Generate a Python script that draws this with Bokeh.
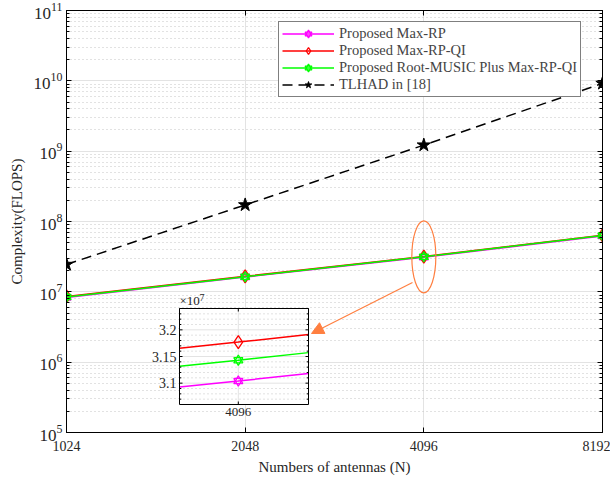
import numpy as np
from bokeh.plotting import figure
from bokeh.models import (FixedTicker, LogAxis, Range1d, LinearScale, Arrow, NormalHead, Legend)
from bokeh.core.properties import value
from bokeh.embed import file_html
from bokeh.resources import INLINE

# ---------------- data ----------------
antennas = [1024, 2048, 4096, 8192]
max_rp = [8.3e6, 1.62e7, 3.104e7, 6.22e7]
max_rp_qi = [8.6e6, 1.66e7, 3.177e7, 6.36e7]
root_music = [8.45e6, 1.64e7, 3.143e7, 6.30e7]
tlhad = [2.45e7, 1.72e8, 1.22e9, 9.2e9]
x_tick_labels = ["1024", "2048", "4096", "8192"]
y_decades = [1e5, 1e6, 1e7, 1e8, 1e9, 1e10, 1e11]
inset_yticks = [3.1, 3.15, 3.2]
inset_ytick_labels = ["3.1", "3.15", "3.2"]
inset_scale = 1e7

FONT = "Liberation Serif"
ORANGE = "#FF7F40"
GRID = "#e3e3e3"
MINOR = "#c4c4c4"

# ---------------- layout (page px) ----------------
FL, FT, FW, FH = 66, 14, 536, 422
IL, IR, IT, IB = 179, 308, 312, 408
ix0, ix1 = 4080.5, 4114.5
iy0, iy1 = 3.06, 3.24


def px2x(px):
    return 1024 * 2 ** ((px - FL) / FW * 3)


def px2y(py):
    return 10 ** (11 - (py - FT) / FH * 6)


p = figure(frame_width=FW, frame_height=FH, x_axis_type="log", y_axis_type="log",
           x_range=(1024, 8192), y_range=(1e5, 1e11),
           output_backend="svg", toolbar_location=None,
           min_border_left=66, min_border_top=10, min_border_right=8,
           min_border_bottom=40, background_fill_color="white",
           border_fill_color="white", outline_line_color="black", outline_line_width=1)

minor = [m * 10.0 ** d for d in range(5, 11) for m in range(2, 10)]
p.xaxis.ticker = FixedTicker(ticks=antennas, minor_ticks=[])
p.xaxis.major_label_overrides = {t: s for t, s in zip(antennas, x_tick_labels)}
p.yaxis.ticker = FixedTicker(ticks=y_decades, minor_ticks=minor)
p.xgrid.ticker = FixedTicker(ticks=antennas, minor_ticks=[])
p.ygrid.ticker = FixedTicker(ticks=y_decades, minor_ticks=minor)
p.xgrid.grid_line_color = GRID
p.ygrid.grid_line_color = GRID
p.ygrid.minor_grid_line_color = MINOR
p.ygrid.minor_grid_line_dash = "1 3"

for ax in [p.xaxis[0], p.yaxis[0]]:
    ax.major_tick_in = 5
    ax.major_tick_out = 0
    ax.minor_tick_in = 3
    ax.minor_tick_out = 0
    ax.axis_line_color = "black"
    ax.major_label_text_font = FONT
    ax.major_label_text_font_size = "14px"
    ax.major_label_text_color = "#262626"
    ax.axis_label_text_font = FONT
    ax.axis_label_text_font_size = "15px"
    ax.axis_label_text_font_style = "normal"
    ax.axis_label_text_color = "#262626"

p.yaxis.major_label_text_font_size = "17px"
p.xaxis.axis_label = "Numbers of antennas (N)"
p.yaxis.axis_label = "Complexity(FLOPS)"
p.xaxis.major_label_standoff = 8
p.xaxis.axis_label_standoff = 5
p.yaxis.major_label_standoff = 4
p.yaxis.axis_label_standoff = 6

top = LogAxis(ticker=FixedTicker(ticks=antennas, minor_ticks=[]),
              major_label_overrides={t: "" for t in antennas}, major_label_text_font_size="1px",
              major_tick_in=5, major_tick_out=0, minor_tick_in=0, minor_tick_out=0,
              major_label_standoff=0)
right = LogAxis(ticker=FixedTicker(ticks=y_decades, minor_ticks=minor),
                major_label_overrides={t: "" for t in y_decades}, major_label_text_font_size="1px",
                major_tick_in=5, major_tick_out=0, minor_tick_in=3, minor_tick_out=0,
                major_label_standoff=0)
p.add_layout(top, "above")
p.add_layout(right, "right")

# ---------------- main series ----------------
items = []
r1 = p.line(antennas, max_rp, color="magenta", line_width=1.5)
r1a = p.scatter(antennas, max_rp, marker="triangle", size=9, fill_color=None, line_color="magenta", line_width=1.3)
r1b = p.scatter(antennas, max_rp, marker="inverted_triangle", size=9, fill_color=None, line_color="magenta", line_width=1.3)
items.append(("Proposed Max-RP", [r1, r1a, r1b]))

r2 = p.line(antennas, max_rp_qi, color="red", line_width=1.5)
r2a = p.scatter(antennas, max_rp_qi, marker="diamond", size=13, fill_color=None, line_color="red", line_width=1.3)
items.append(("Proposed Max-RP-QI", [r2, r2a]))

r3 = p.line(antennas, root_music, color="#00FF00", line_width=1.5)
r3a = p.scatter(antennas, root_music, marker="triangle", size=9, fill_color=None, line_color="#00FF00", line_width=1.3)
r3b = p.scatter(antennas, root_music, marker="inverted_triangle", size=9, fill_color=None, line_color="#00FF00", line_width=1.3)
items.append(("Proposed Root-MUSIC Plus Max-RP-QI", [r3, r3a, r3b]))

r4 = p.line(antennas, tlhad, color="black", line_width=1.5, line_dash="10 6")
r4a = p.scatter(antennas, tlhad, marker="star", size=14, fill_color="black", line_color="black")
items.append(("TLHAD in [18]", [r4, r4a]))

legend = Legend(items=items, location=(278 - FL, FT + FH - 101), glyph_width=52, glyph_height=17,
                spacing=0, padding=3, margin=0, label_standoff=5,
                label_text_font=FONT, label_text_font_size="14.5px", label_height=17,
                border_line_color="black", border_line_width=1, background_fill_alpha=1)
p.add_layout(legend, "center")

# ---------------- ellipse + arrow ----------------
p.ellipse(x=[antennas[2]], y=[root_music[2]], width=24, height=72, width_units="screen",
          height_units="screen", fill_color=None, line_color=ORANGE, line_width=1.2)
p.add_layout(Arrow(x_start=px2x(412), y_start=px2y(286), x_end=px2x(311), y_end=px2y(337),
                   line_color=ORANGE, line_width=1.2,
                   end=NormalHead(size=12, fill_color=ORANGE, line_color=ORANGE)))

# ---------------- inset (extra ranges) ----------------
sx = (ix1 - ix0) / (IR - IL)
xs = ix0 - (IL - FL) * sx
sy = (iy1 - iy0) / (IB - IT)
ys = iy0 - (FT + FH - IB) * sy
p.extra_x_ranges = {"ix": Range1d(xs, xs + FW * sx)}
p.extra_y_ranges = {"iy": Range1d(ys, ys + FH * sy)}
p.extra_x_scales = {"ix": LinearScale()}
p.extra_y_scales = {"iy": LinearScale()}
kw = dict(x_range_name="ix", y_range_name="iy")

p.quad(left=[ix0], right=[ix1], bottom=[iy0], top=[iy1], fill_color="white", line_color=None, **kw)
inset_minor = [round(v, 2) for v in np.arange(3.07, 3.2401, 0.01) if round(v, 2) not in inset_yticks]
p.segment(x0=[ix0] * len(inset_minor), x1=[ix1] * len(inset_minor), y0=inset_minor, y1=inset_minor,
          line_color=MINOR, line_dash="1 3", **kw)
p.segment(x0=[ix0] * 3, x1=[ix1] * 3, y0=inset_yticks, y1=inset_yticks, line_color=GRID, **kw)
p.segment(x0=[antennas[2]], x1=[antennas[2]], y0=[iy0], y1=[iy1], line_color=GRID, **kw)

xa = np.array(antennas, dtype=float)
for ser, col, kind in [(max_rp, "magenta", "hex"), (max_rp_qi, "red", "dia"), (root_music, "#00FF00", "hex")]:
    ya = np.array(ser) / inset_scale
    xl = [ix0, antennas[2], ix1]
    yl = list(np.interp(xl, xa, ya))
    p.line(xl, yl, color=col, line_width=1.5, **kw)
    if kind == "hex":
        p.scatter([antennas[2]], [ya[2]], marker="triangle", size=9, fill_color=None, line_color=col, line_width=1.3, **kw)
        p.scatter([antennas[2]], [ya[2]], marker="inverted_triangle", size=9, fill_color=None, line_color=col, line_width=1.3, **kw)
    else:
        p.scatter([antennas[2]], [ya[2]], marker="diamond", size=13, fill_color=None, line_color=col, line_width=1.3, **kw)

p.quad(left=[ix0], right=[ix1], bottom=[iy0], top=[iy1], fill_color=None, line_color="black", line_width=1, **kw)
tx = 3 * sx
ty = 3 * sy
p.segment(x0=[ix0] * 3, x1=[ix0 + tx] * 3, y0=inset_yticks, y1=inset_yticks, line_color="black", **kw)
p.segment(x0=[ix1] * 3, x1=[ix1 - tx] * 3, y0=inset_yticks, y1=inset_yticks, line_color="black", **kw)
p.segment(x0=[ix0] * len(inset_minor), x1=[ix0 + tx * 0.6] * len(inset_minor), y0=inset_minor, y1=inset_minor, line_color="black", **kw)
p.segment(x0=[ix1] * len(inset_minor), x1=[ix1 - tx * 0.6] * len(inset_minor), y0=inset_minor, y1=inset_minor, line_color="black", **kw)
p.segment(x0=[antennas[2]] * 2, x1=[antennas[2]] * 2, y0=[iy0, iy1], y1=[iy0 + ty, iy1 - ty], line_color="black", **kw)

p.text(x=[ix0] * 3, y=inset_yticks, text=inset_ytick_labels, x_offset=-3, text_align="right",
       text_baseline="middle", text_font=value(FONT), text_font_size="14px", text_color="#262626", **kw)
p.text(x=[antennas[2]], y=[iy0], text=[x_tick_labels[2]], y_offset=3, text_align="center",
       text_baseline="top", text_font=value(FONT), text_font_size="13px", text_color="#262626", **kw)
p.text(x=[ix0], y=[iy1], text=["×10"], x_offset=0, y_offset=-1, text_align="left",
       text_baseline="bottom", text_font=value(FONT), text_font_size="13px", text_color="#262626", **kw)
p.text(x=[ix0], y=[iy1], text=["7"], x_offset=20, y_offset=-8, text_align="left",
       text_baseline="bottom", text_font=value(FONT), text_font_size="10px", text_color="#262626", **kw)

open("out.html", "w").write(file_html(p, INLINE))
